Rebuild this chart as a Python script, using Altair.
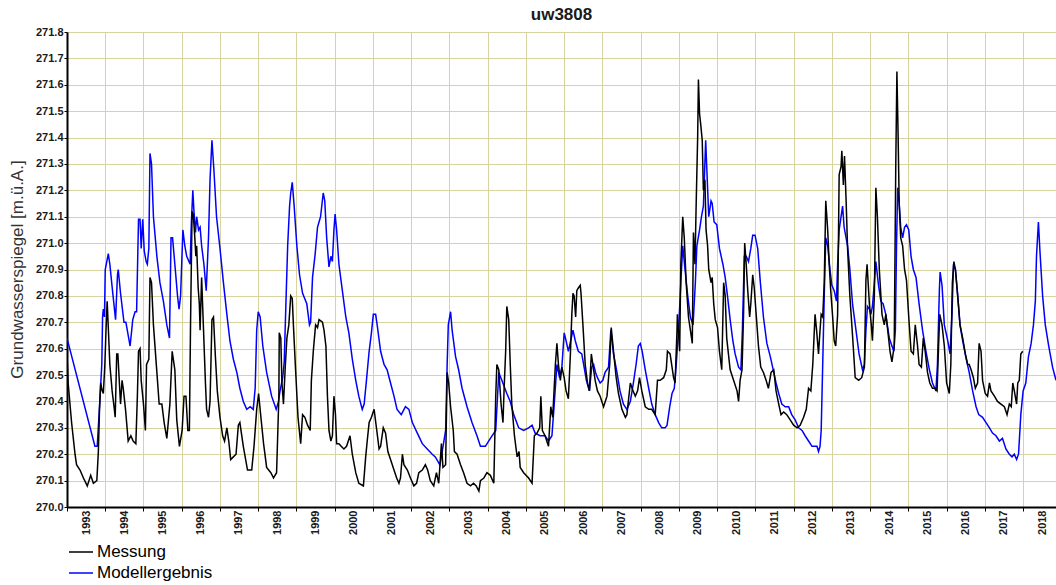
import altair as alt
import pandas as pd

chart_title = "uw3808"
y_title = "Grundwasserspiegel [m.ü.A.]"
series_names = ["Messung", "Modellergebnis"]
series_colors = ["#000000", "#0000ff"]

year_ticks = [1993, 1994, 1995, 1996, 1997, 1998, 1999, 2000, 2001, 2002, 2003, 2004, 2005,
              2006, 2007, 2008, 2009, 2010, 2011, 2012, 2013, 2014, 2015, 2016, 2017, 2018]
level_ticks = [270.0, 270.1, 270.2, 270.3, 270.4, 270.5, 270.6, 270.7, 270.8, 270.9,
               271.0, 271.1, 271.2, 271.3, 271.4, 271.5, 271.6, 271.7, 271.8]
x_domain = [1993.0, 2018.86]
y_domain = [270.0, 271.8]

# Messung (measured)
mess_year = [
    1993.00, 1993.03, 1993.12, 1993.21, 1993.25, 1993.34, 1993.43, 1993.53, 1993.62, 1993.69,
    1993.78, 1993.82, 1993.85, 1993.88, 1993.92, 1993.95, 1993.99, 1994.02, 1994.05, 1994.08,
    1994.12, 1994.18, 1994.23, 1994.26, 1994.30, 1994.33, 1994.37, 1994.40, 1994.44, 1994.47,
    1994.53, 1994.60, 1994.67, 1994.73, 1994.80, 1994.84, 1994.87, 1994.91, 1994.94, 1995.00,
    1995.05, 1995.08, 1995.14, 1995.17, 1995.21, 1995.26, 1995.35, 1995.41, 1995.48, 1995.54,
    1995.61, 1995.69, 1995.75, 1995.82, 1995.87, 1995.94, 1996.01, 1996.06, 1996.11, 1996.16,
    1996.20, 1996.23, 1996.27, 1996.30, 1996.33, 1996.37, 1996.39, 1996.43, 1996.46, 1996.48,
    1996.52, 1996.57, 1996.62, 1996.65, 1996.70, 1996.74, 1996.79, 1996.83, 1996.88, 1996.93,
    1997.00, 1997.07, 1997.12, 1997.18, 1997.23, 1997.28, 1997.35, 1997.42, 1997.48, 1997.52,
    1997.61, 1997.72, 1997.83, 1997.89, 1997.96, 1998.01, 1998.07, 1998.14, 1998.22, 1998.33,
    1998.40, 1998.48, 1998.54, 1998.55, 1998.59, 1998.62, 1998.66, 1998.71, 1998.75, 1998.80,
    1998.85, 1998.89, 1998.92, 1998.97, 1999.04, 1999.11, 1999.16, 1999.22, 1999.29, 1999.36,
    1999.39, 1999.44, 1999.50, 1999.55, 1999.59, 1999.68, 1999.72, 1999.77, 1999.81, 1999.85,
    1999.90, 1999.94, 1999.98, 2000.02, 2000.05, 2000.11, 2000.17, 2000.24, 2000.31, 2000.40,
    2000.46, 2000.55, 2000.63, 2000.75, 2000.81, 2000.85, 2000.90, 2000.96, 2001.03, 2001.10,
    2001.16, 2001.20, 2001.27, 2001.33, 2001.39, 2001.46, 2001.55, 2001.62, 2001.68, 2001.72,
    2001.77, 2001.81, 2001.90, 2001.98, 2002.07, 2002.14, 2002.20, 2002.29, 2002.37, 2002.43,
    2002.50, 2002.59, 2002.66, 2002.72, 2002.79, 2002.83, 2002.90, 2002.94, 2002.98, 2003.03,
    2003.10, 2003.13, 2003.20, 2003.29, 2003.37, 2003.46, 2003.55, 2003.63, 2003.70, 2003.77,
    2003.81, 2003.90, 2003.98, 2004.07, 2004.16, 2004.21, 2004.24, 2004.29, 2004.35, 2004.40,
    2004.43, 2004.47, 2004.50, 2004.55, 2004.59, 2004.63, 2004.70, 2004.77, 2004.82, 2004.85,
    2004.94, 2005.07, 2005.16, 2005.22, 2005.29, 2005.36, 2005.39, 2005.43, 2005.50, 2005.59,
    2005.65, 2005.70, 2005.77, 2005.81, 2005.85, 2005.90, 2005.94, 2006.00, 2006.05, 2006.11,
    2006.16, 2006.20, 2006.23, 2006.26, 2006.30, 2006.33, 2006.37, 2006.42, 2006.44, 2006.49,
    2006.55, 2006.61, 2006.66, 2006.71, 2006.75, 2006.81, 2006.87, 2006.94, 2007.03, 2007.12,
    2007.19, 2007.23, 2007.29, 2007.36, 2007.42, 2007.51, 2007.60, 2007.64, 2007.73, 2007.80,
    2007.86, 2007.92, 2007.97, 2008.03, 2008.12, 2008.21, 2008.29, 2008.38, 2008.44, 2008.51,
    2008.60, 2008.67, 2008.70, 2008.77, 2008.86, 2008.90, 2008.95, 2008.96, 2009.02, 2009.05,
    2009.10, 2009.14, 2009.19, 2009.25, 2009.30, 2009.35, 2009.38, 2009.42, 2009.45, 2009.49,
    2009.51, 2009.54, 2009.57, 2009.61, 2009.64, 2009.68, 2009.71, 2009.75, 2009.78, 2009.84,
    2009.87, 2009.91, 2009.95, 2010.01, 2010.06, 2010.12, 2010.17, 2010.21, 2010.25, 2010.34,
    2010.43, 2010.52, 2010.56, 2010.60, 2010.65, 2010.69, 2010.72, 2010.76, 2010.80, 2010.85,
    2010.88, 2010.93, 2010.97, 2011.02, 2011.08, 2011.14, 2011.21, 2011.28, 2011.34, 2011.41,
    2011.48, 2011.54, 2011.61, 2011.67, 2011.74, 2011.82, 2011.91, 2012.00, 2012.09, 2012.17,
    2012.26, 2012.33, 2012.39, 2012.45, 2012.50, 2012.56, 2012.60, 2012.65, 2012.69, 2012.72,
    2012.76, 2012.80, 2012.84, 2012.89, 2012.93, 2012.97, 2013.02, 2013.06, 2013.10, 2013.15,
    2013.19, 2013.24, 2013.26, 2013.30, 2013.33, 2013.37, 2013.41, 2013.47, 2013.54, 2013.61,
    2013.70, 2013.78, 2013.85, 2013.89, 2013.92, 2013.98, 2014.03, 2014.06, 2014.11, 2014.15,
    2014.19, 2014.24, 2014.31, 2014.37, 2014.41, 2014.46, 2014.52, 2014.57, 2014.63, 2014.67,
    2014.70, 2014.73, 2014.76, 2014.80, 2014.85, 2014.90, 2014.95, 2015.01, 2015.07, 2015.13,
    2015.18, 2015.24, 2015.28, 2015.34, 2015.39, 2015.44, 2015.50, 2015.56, 2015.63, 2015.70,
    2015.75, 2015.79, 2015.82, 2015.88, 2015.94, 2016.00, 2016.07, 2016.11, 2016.15, 2016.19,
    2016.23, 2016.29, 2016.35, 2016.42, 2016.49, 2016.55, 2016.59, 2016.64, 2016.70, 2016.75,
    2016.81, 2016.85, 2016.90, 2016.94, 2017.01, 2017.07, 2017.12, 2017.16, 2017.25, 2017.33,
    2017.42, 2017.51, 2017.58, 2017.64, 2017.69, 2017.73, 2017.77, 2017.83, 2017.86, 2017.90,
    2017.94, 2017.99,
]
mess_level = [
    270.58, 270.47, 270.32, 270.20, 270.16, 270.14, 270.11, 270.08, 270.12, 270.09,
    270.10, 270.21, 270.37, 270.47, 270.44, 270.43, 270.54, 270.67, 270.78, 270.68,
    270.54, 270.44, 270.38, 270.34, 270.58, 270.58, 270.47, 270.39, 270.48, 270.45,
    270.37, 270.25, 270.27, 270.25, 270.24, 270.42, 270.59, 270.60, 270.48, 270.39,
    270.29, 270.54, 270.56, 270.87, 270.85, 270.69, 270.51, 270.39, 270.39, 270.32,
    270.26, 270.39, 270.59, 270.52, 270.33, 270.23, 270.29, 270.42, 270.42, 270.29,
    270.29, 270.69, 271.12, 271.11, 271.05, 270.95, 270.99, 270.83, 270.77, 270.67,
    270.87, 270.67, 270.47, 270.37, 270.34, 270.40, 270.71, 270.72, 270.57, 270.44,
    270.34, 270.27, 270.25, 270.30, 270.25, 270.18, 270.19, 270.20, 270.31, 270.32,
    270.23, 270.14, 270.14, 270.23, 270.37, 270.43, 270.34, 270.24, 270.15, 270.13,
    270.11, 270.13, 270.42, 270.66, 270.64, 270.47, 270.39, 270.54, 270.64, 270.69,
    270.80, 270.79, 270.69, 270.54, 270.34, 270.24, 270.35, 270.34, 270.31, 270.29,
    270.48, 270.59, 270.69, 270.68, 270.71, 270.70, 270.67, 270.61, 270.42, 270.29,
    270.25, 270.27, 270.42, 270.35, 270.24, 270.24, 270.23, 270.22, 270.23, 270.27,
    270.20, 270.13, 270.09, 270.08, 270.19, 270.25, 270.32, 270.34, 270.37, 270.29,
    270.22, 270.23, 270.30, 270.28, 270.21, 270.18, 270.14, 270.11, 270.09, 270.11,
    270.20, 270.16, 270.14, 270.11, 270.08, 270.09, 270.13, 270.14, 270.16, 270.14,
    270.10, 270.08, 270.13, 270.09, 270.24, 270.15, 270.16, 270.51, 270.47, 270.38,
    270.29, 270.21, 270.20, 270.16, 270.13, 270.09, 270.08, 270.09, 270.08, 270.06,
    270.10, 270.11, 270.13, 270.12, 270.09, 270.42, 270.54, 270.52, 270.39, 270.32,
    270.45, 270.59, 270.76, 270.71, 270.54, 270.39, 270.27, 270.19, 270.21, 270.15,
    270.13, 270.11, 270.09, 270.27, 270.28, 270.30, 270.42, 270.29, 270.27, 270.23,
    270.38, 270.34, 270.54, 270.62, 270.54, 270.48, 270.53, 270.49, 270.44, 270.41,
    270.57, 270.73, 270.81, 270.80, 270.72, 270.82, 270.83, 270.84, 270.81, 270.69,
    270.54, 270.47, 270.44, 270.58, 270.54, 270.48, 270.44, 270.42, 270.38, 270.42,
    270.54, 270.68, 270.59, 270.49, 270.43, 270.37, 270.34, 270.35, 270.47, 270.44,
    270.42, 270.44, 270.49, 270.44, 270.38, 270.37, 270.37, 270.35, 270.48, 270.48,
    270.49, 270.52, 270.59, 270.58, 270.49, 270.47, 270.67, 270.73, 270.59, 270.92,
    271.10, 271.02, 270.85, 270.72, 270.67, 270.62, 271.04, 270.92, 271.14, 271.40,
    271.62, 271.49, 271.45, 271.39, 271.20, 271.24, 271.05, 270.99, 270.90, 270.85,
    270.87, 270.77, 270.71, 270.68, 270.59, 270.52, 270.85, 270.80, 270.64, 270.52,
    270.48, 270.44, 270.40, 270.48, 270.52, 270.73, 271.00, 270.92, 270.82, 270.72,
    270.77, 270.88, 270.83, 270.73, 270.61, 270.53, 270.51, 270.48, 270.45, 270.51,
    270.52, 270.44, 270.39, 270.35, 270.36, 270.35, 270.33, 270.31, 270.30, 270.31,
    270.34, 270.37, 270.45, 270.44, 270.54, 270.73, 270.67, 270.58, 270.67, 270.73,
    270.72, 270.85, 271.16, 271.05, 270.92, 270.82, 270.72, 270.63, 270.61, 270.73,
    271.26, 271.29, 271.35, 271.22, 271.33, 271.17, 270.98, 270.80, 270.65, 270.49,
    270.48, 270.49, 270.53, 270.86, 270.92, 270.77, 270.69, 270.63, 270.80, 271.21,
    271.10, 270.90, 270.73, 270.69, 270.73, 270.67, 270.59, 270.55, 270.61, 271.29,
    271.65, 271.42, 271.15, 271.02, 270.99, 270.90, 270.86, 270.72, 270.59, 270.58,
    270.69, 270.61, 270.54, 270.53, 270.64, 270.59, 270.51, 270.47, 270.45, 270.45,
    270.44, 270.61, 270.73, 270.69, 270.61, 270.47, 270.43, 270.54, 270.85, 270.93,
    270.90, 270.80, 270.69, 270.64, 270.58, 270.54, 270.54, 270.52, 270.49, 270.45,
    270.47, 270.62, 270.59, 270.48, 270.43, 270.42, 270.47, 270.44, 270.42, 270.40,
    270.39, 270.38, 270.35, 270.39, 270.38, 270.47, 270.44, 270.39, 270.47, 270.48,
    270.58, 270.59,
]

# Modellergebnis (model)
model_year = [
    1993.00, 1993.73, 1993.79, 1993.85, 1993.91, 1993.93, 1993.95, 1993.98, 1994.00, 1994.04,
    1994.08, 1994.12, 1994.19, 1994.27, 1994.32, 1994.34, 1994.40, 1994.49, 1994.54, 1994.65,
    1994.72, 1994.78, 1994.82, 1994.87, 1994.91, 1994.94, 1994.98, 1995.02, 1995.07, 1995.10,
    1995.14, 1995.17, 1995.21, 1995.26, 1995.35, 1995.43, 1995.52, 1995.61, 1995.68, 1995.72,
    1995.76, 1995.82, 1995.89, 1995.93, 1995.97, 1996.03, 1996.08, 1996.13, 1996.22, 1996.25,
    1996.29, 1996.32, 1996.36, 1996.39, 1996.44, 1996.48, 1996.52, 1996.58, 1996.64, 1996.70,
    1996.74, 1996.79, 1996.84, 1996.91, 1997.00, 1997.09, 1997.18, 1997.26, 1997.35, 1997.44,
    1997.52, 1997.61, 1997.70, 1997.79, 1997.87, 1997.92, 1997.96, 1998.00, 1998.05, 1998.12,
    1998.22, 1998.35, 1998.47, 1998.53, 1998.57, 1998.64, 1998.68, 1998.73, 1998.77, 1998.82,
    1998.85, 1998.89, 1998.94, 1999.01, 1999.08, 1999.16, 1999.27, 1999.34, 1999.37, 1999.42,
    1999.49, 1999.55, 1999.59, 1999.63, 1999.70, 1999.74, 1999.79, 1999.85, 1999.90, 1999.94,
    1999.98, 2000.01, 2000.05, 2000.11, 2000.20, 2000.29, 2000.37, 2000.46, 2000.55, 2000.63,
    2000.72, 2000.77, 2000.83, 2000.90, 2000.96, 2001.01, 2001.07, 2001.11, 2001.20, 2001.29,
    2001.37, 2001.46, 2001.55, 2001.63, 2001.74, 2001.85, 2001.94, 2002.03, 2002.16, 2002.29,
    2002.42, 2002.55, 2002.63, 2002.75, 2002.81, 2002.90, 2002.94, 2002.97, 2003.03, 2003.07,
    2003.16, 2003.24, 2003.33, 2003.46, 2003.59, 2003.72, 2003.81, 2003.94, 2004.07, 2004.21,
    2004.29, 2004.37, 2004.50, 2004.59, 2004.68, 2004.81, 2004.94, 2005.07, 2005.16, 2005.24,
    2005.37, 2005.50, 2005.59, 2005.68, 2005.74, 2005.81, 2005.88, 2005.94, 2006.00, 2006.05,
    2006.11, 2006.17, 2006.23, 2006.29, 2006.37, 2006.46, 2006.51, 2006.58, 2006.66, 2006.72,
    2006.77, 2006.82, 2006.87, 2006.94, 2007.01, 2007.07, 2007.16, 2007.22, 2007.29, 2007.38,
    2007.46, 2007.55, 2007.64, 2007.73, 2007.81, 2007.88, 2007.94, 2007.99, 2008.04, 2008.12,
    2008.21, 2008.29, 2008.38, 2008.47, 2008.55, 2008.64, 2008.69, 2008.76, 2008.82, 2008.88,
    2008.93, 2008.99, 2009.05, 2009.10, 2009.16, 2009.23, 2009.30, 2009.37, 2009.43, 2009.47,
    2009.54, 2009.59, 2009.64, 2009.70, 2009.73, 2009.78, 2009.84, 2009.87, 2009.92, 2009.99,
    2010.06, 2010.15, 2010.21, 2010.27, 2010.34, 2010.41, 2010.47, 2010.56, 2010.62, 2010.66,
    2010.71, 2010.76, 2010.82, 2010.88, 2010.93, 2010.99, 2011.06, 2011.13, 2011.21, 2011.30,
    2011.39, 2011.48, 2011.54, 2011.61, 2011.69, 2011.78, 2011.87, 2011.95, 2012.04, 2012.13,
    2012.22, 2012.30, 2012.39, 2012.48, 2012.56, 2012.61, 2012.65, 2012.69, 2012.72, 2012.76,
    2012.80, 2012.84, 2012.89, 2012.95, 2013.00, 2013.06, 2013.12, 2013.15, 2013.19, 2013.24,
    2013.28, 2013.32, 2013.41, 2013.47, 2013.54, 2013.63, 2013.71, 2013.80, 2013.85, 2013.89,
    2013.93, 2013.98, 2014.02, 2014.06, 2014.11, 2014.15, 2014.22, 2014.28, 2014.34, 2014.41,
    2014.50, 2014.57, 2014.62, 2014.66, 2014.69, 2014.72, 2014.76, 2014.80, 2014.85, 2014.90,
    2014.95, 2015.01, 2015.07, 2015.13, 2015.20, 2015.28, 2015.37, 2015.46, 2015.55, 2015.63,
    2015.72, 2015.76, 2015.81, 2015.83, 2015.88, 2015.94, 2016.03, 2016.09, 2016.14, 2016.18,
    2016.23, 2016.29, 2016.35, 2016.42, 2016.50, 2016.59, 2016.68, 2016.77, 2016.84, 2016.94,
    2017.03, 2017.12, 2017.20, 2017.29, 2017.38, 2017.46, 2017.55, 2017.64, 2017.71, 2017.77,
    2017.83, 2017.88, 2017.94, 2018.00, 2018.07, 2018.14, 2018.21, 2018.27, 2018.32, 2018.35,
    2018.40, 2018.44, 2018.51, 2018.58, 2018.67, 2018.77, 2018.86,
]
model_level = [
    270.64, 270.23, 270.23, 270.38, 270.54, 270.72, 270.75, 270.72, 270.90, 270.93,
    270.96, 270.92, 270.82, 270.71, 270.88, 270.90, 270.81, 270.70, 270.70, 270.61,
    270.71, 270.74, 270.74, 271.09, 271.09, 270.98, 271.09, 270.97, 270.93, 270.92,
    270.98, 271.34, 271.30, 271.10, 270.95, 270.85, 270.78, 270.69, 270.64, 271.02,
    271.02, 270.92, 270.80, 270.75, 270.80, 271.05, 270.99, 270.95, 270.92, 271.07,
    271.20, 271.12, 271.04, 271.10, 271.05, 271.06, 270.99, 270.92, 270.82, 271.02,
    271.24, 271.39, 271.28, 271.10, 270.98, 270.85, 270.73, 270.63, 270.56, 270.51,
    270.45, 270.40, 270.37, 270.38, 270.37, 270.45, 270.67, 270.74, 270.72, 270.61,
    270.51, 270.42, 270.37, 270.40, 270.44, 270.49, 270.55, 270.80, 270.99, 271.14,
    271.19, 271.23, 271.14, 270.99, 270.88, 270.81, 270.77, 270.69, 270.70, 270.87,
    270.96, 271.06, 271.08, 271.10, 271.19, 271.16, 271.02, 270.91, 270.95, 270.93,
    271.05, 271.11, 271.05, 270.92, 270.82, 270.72, 270.66, 270.56, 270.48, 270.42,
    270.37, 270.39, 270.48, 270.59, 270.66, 270.73, 270.73, 270.69, 270.59, 270.54,
    270.52, 270.47, 270.42, 270.37, 270.35, 270.38, 270.37, 270.32, 270.28, 270.24,
    270.22, 270.20, 270.19, 270.16, 270.21, 270.29, 270.54, 270.69, 270.74, 270.67,
    270.57, 270.52, 270.45, 270.38, 270.32, 270.27, 270.23, 270.23, 270.26, 270.29,
    270.51, 270.48, 270.43, 270.40, 270.35, 270.30, 270.29, 270.30, 270.31, 270.28,
    270.27, 270.27, 270.25, 270.27, 270.39, 270.54, 270.49, 270.53, 270.66, 270.63,
    270.59, 270.63, 270.67, 270.63, 270.59, 270.58, 270.54, 270.48, 270.44, 270.53,
    270.54, 270.51, 270.49, 270.47, 270.48, 270.51, 270.53, 270.67, 270.58, 270.51,
    270.44, 270.39, 270.37, 270.40, 270.47, 270.54, 270.61, 270.62, 270.59, 270.52,
    270.45, 270.39, 270.35, 270.32, 270.30, 270.30, 270.31, 270.38, 270.43, 270.45,
    270.54, 270.67, 270.85, 270.99, 270.90, 270.80, 270.72, 270.69, 270.85, 270.99,
    271.05, 271.10, 271.14, 271.39, 271.28, 271.10, 271.16, 271.15, 271.08, 271.07,
    270.98, 270.92, 270.87, 270.80, 270.71, 270.63, 270.58, 270.53, 270.52, 270.67,
    270.95, 270.95, 270.93, 270.98, 271.03, 271.03, 270.98, 270.85, 270.72, 270.62,
    270.57, 270.51, 270.47, 270.43, 270.39, 270.38, 270.38, 270.35, 270.33, 270.30,
    270.29, 270.27, 270.25, 270.23, 270.23, 270.23, 270.21, 270.23, 270.29, 270.54,
    270.80, 271.02, 270.99, 270.90, 270.84, 270.82, 270.78, 270.92, 271.05, 271.10,
    271.14, 271.06, 270.99, 270.90, 270.77, 270.67, 270.58, 270.52, 270.54, 270.67,
    270.76, 270.75, 270.73, 270.76, 270.85, 270.93, 270.84, 270.78, 270.77, 270.73,
    270.64, 270.61, 270.59, 270.67, 270.99, 271.21, 271.15, 271.06, 271.02, 271.06,
    271.07, 271.05, 270.95, 270.90, 270.87, 270.77, 270.67, 270.59, 270.52, 270.47,
    270.44, 270.54, 270.82, 270.89, 270.84, 270.69, 270.63, 270.58, 270.73, 270.92,
    270.90, 270.80, 270.69, 270.63, 270.57, 270.51, 270.44, 270.38, 270.35, 270.34,
    270.32, 270.30, 270.28, 270.27, 270.25, 270.26, 270.22, 270.20, 270.19, 270.20,
    270.18, 270.20, 270.35, 270.44, 270.47, 270.57, 270.62, 270.69, 270.78, 270.95,
    271.08, 270.97, 270.80, 270.69, 270.61, 270.53, 270.48,
]

df = pd.concat([
    pd.DataFrame({"year": mess_year, "level": mess_level, "series": series_names[0]}),
    pd.DataFrame({"year": model_year, "level": model_level, "series": series_names[1]}),
], ignore_index=True)

FONT = "Liberation Sans"

base = alt.Chart(df).mark_line(strokeWidth=1.5, clip=True, strokeJoin="miter").encode(
    x=alt.X(
        "year:Q",
        scale=alt.Scale(domain=x_domain, nice=False, zero=False),
        axis=alt.Axis(
            values=year_ticks, format="d", labelAngle=270, labelOffset=19,
            labelFlush=False, labelOverlap=False, tickSize=4, labelPadding=-1,
            title=None,
        ),
    ),
    y=alt.Y(
        "level:Q",
        scale=alt.Scale(domain=y_domain, nice=False, zero=False),
        axis=alt.Axis(
            values=level_ticks, format=".1f", tickSize=3, labelPadding=1,
            title=y_title, titleFontSize=17, titleFontWeight="normal",
            titleColor="#333333", titleFont=FONT, titleAngle=270,
            titleX=-50, titleY=237, titleAlign="center", titleBaseline="middle",
        ),
    ),
    color=alt.Color(
        "series:N",
        scale=alt.Scale(domain=series_names, range=series_colors),
        legend=alt.Legend(
            title=None, orient="none", legendX=1, legendY=507, direction="vertical",
            symbolType="stroke", symbolSize=576, symbolStrokeWidth=1.5,
            labelFontSize=17, labelFont=FONT, labelColor="#000000",
            labelOffset=3, rowPadding=-2, padding=0,
        ),
    ),
)

model_layer = base.transform_filter(alt.datum.series == series_names[1])
mess_layer = base.transform_filter(alt.datum.series == series_names[0])

chart = alt.layer(model_layer, mess_layer).properties(
    width=989,
    height=475,
    background="white",
    title=alt.TitleParams(
        text=chart_title, fontSize=17, font=FONT, fontWeight="bold",
        anchor="middle", color="#1a1a1a", baseline="alphabetic", offset=9, dy=20,
    ),
    autosize=alt.AutoSizeParams(type="none"),
    padding={"left": 67, "top": 32, "right": 0, "bottom": 78},
).configure_view(stroke=None).configure_axis(
    domainColor="#000000", domainWidth=2, gridColor="#d8d4a0", gridWidth=1,
    gridOpacity=1, tickColor="#000000", tickWidth=1,
    labelFont=FONT, labelFontWeight="bold", labelFontSize=11, labelColor="#1a1a1a",
)

chart.save("out.html", embed_options={"renderer": "svg", "actions": False})
